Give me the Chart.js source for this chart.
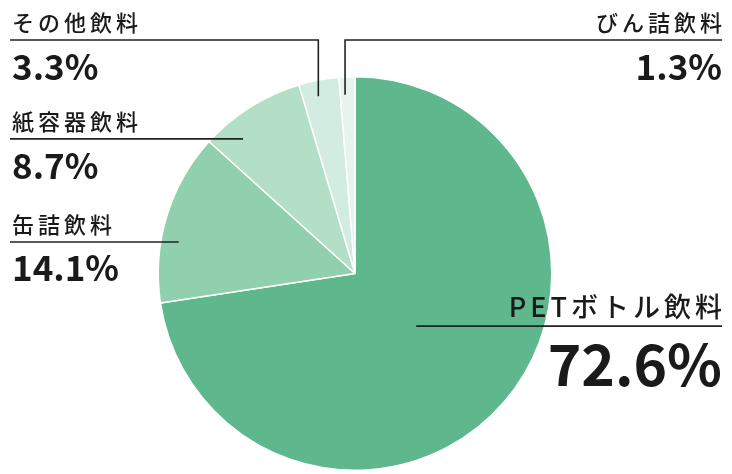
<!DOCTYPE html>
<html>
<head>
<meta charset="utf-8">
<script src="https://cdn.jsdelivr.net/npm/chart.js@4"></script>
<style>
  body { margin: 0; background: #fff; }
  canvas { display: block; }
</style>
</head>
<body>
<canvas id="drinkPie" width="732" height="474"></canvas>
<script>
const categories = ["PETボトル飲料", "缶詰飲料", "紙容器飲料", "その他飲料", "びん詰飲料"];
const shares = [72.6, 14.1, 8.7, 3.3, 1.3];
const shareLabels = ["72.6%", "14.1%", "8.7%", "3.3%", "1.3%"];
const sliceColors = ['#5fb78d', '#90d0af', '#b4dfc7', '#d3ece0', '#e6f4ec'];

// where each label sits and where its leader touches the slice
const labelLayout = [
  { side: 'right', kind: 'h', frac: 0.5, depth: 0.41, nameSize: 27, nameSpacing: 4, valueSize: 57, valueGap: 60 },
  { side: 'left', kind: 'h', frac: 0.37, depth: 0.91, nameSize: 22, nameSpacing: 4, valueSize: 35, valueGap: 39 },
  { side: 'left', kind: 'h', frac: 0.26, depth: 0.89, nameSize: 22, nameSpacing: 4, valueSize: 35, valueGap: 40 },
  { side: 'left', kind: 'v', frac: 0.41, depth: 0.92, topY: 40, nameSize: 22, nameSpacing: 4, valueSize: 35, valueGap: 40 },
  { side: 'right', kind: 'v', frac: 0.32, depth: 0.91, topY: 40, nameSize: 22, nameSpacing: 4, valueSize: 35, valueGap: 40 }
];

const FONT = '"Noto Sans CJK JP", "Noto Sans", sans-serif';

const leaderLabels = {
  id: 'leaderLabels',
  afterDraw(chart) {
    const ctx = chart.ctx;
    const meta = chart.getDatasetMeta(0);
    const leftX = 10, rightX = 722;
    ctx.save();
    ctx.strokeStyle = '#222';
    ctx.fillStyle = '#1a1a1a';
    ctx.lineWidth = 1.6;
    meta.data.forEach((arc, i) => {
      const cfg = labelLayout[i];
      const a = arc.startAngle + (arc.endAngle - arc.startAngle) * cfg.frac;
      const px = arc.x + Math.cos(a) * arc.outerRadius * cfg.depth;
      const py = arc.y + Math.sin(a) * arc.outerRadius * cfg.depth;
      const edgeX = cfg.side === 'left' ? leftX : rightX;
      let lineY;
      ctx.beginPath();
      if (cfg.kind === 'v') {
        lineY = cfg.topY;
        ctx.moveTo(edgeX, lineY);
        ctx.lineTo(px, lineY);
        ctx.lineTo(px, py);
      } else {
        lineY = py;
        ctx.moveTo(edgeX, lineY);
        ctx.lineTo(px, lineY);
      }
      ctx.stroke();

      ctx.textAlign = cfg.side;
      ctx.textBaseline = 'alphabetic';
      const tx = cfg.side === 'left' ? edgeX + 2 : edgeX;
      ctx.font = '500 ' + cfg.nameSize + 'px ' + FONT;
      ctx.letterSpacing = cfg.nameSpacing + 'px';
      ctx.fillText(categories[i], tx + (cfg.side === 'right' ? cfg.nameSpacing : 0), lineY - 9);
      ctx.font = '700 ' + cfg.valueSize + 'px ' + FONT;
      ctx.letterSpacing = '0px';
      ctx.fillText(shareLabels[i], tx, lineY + cfg.valueGap);
    });
    ctx.restore();
  }
};

new Chart(document.getElementById('drinkPie'), {
  type: 'pie',
  data: {
    labels: categories,
    datasets: [{
      data: shares,
      backgroundColor: sliceColors,
      borderColor: '#ffffff',
      borderWidth: 1.5
    }]
  },
  options: {
    responsive: false,
    animation: false,
    layout: { padding: { top: 76, bottom: 3, left: 0, right: 22 } },
    plugins: {
      legend: { display: false },
      tooltip: { enabled: false }
    }
  },
  plugins: [leaderLabels]
});
</script>
</body>
</html>
